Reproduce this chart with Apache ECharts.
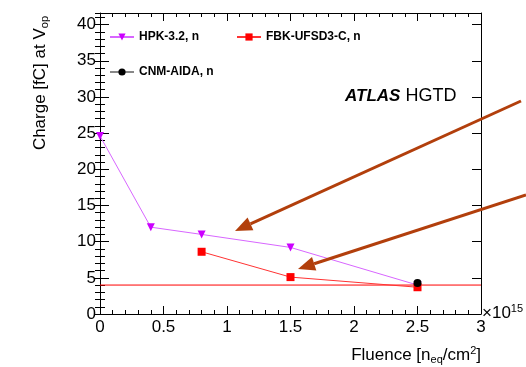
<!DOCTYPE html>
<html><head><meta charset="utf-8">
<script src="https://cdn.jsdelivr.net/npm/echarts@6/dist/echarts.min.js"></script>
<style>html,body{margin:0;padding:0;background:#fff}#c{width:526px;height:367px}</style>
</head><body><div id="c"></div>
<script>
// Data
const hpkFluence = [0, 0.4, 0.8, 1.5, 2.5];
const hpkCharge = [24.6, 12.0, 11.0, 9.2, 4.0];
const fbkFluence = [0.8, 1.5, 2.5];
const fbkCharge = [8.6, 5.1, 3.7];
const cnmFluence = [2.5];
const cnmCharge = [4.3];
const thresholdFluence = [0, 3];
const thresholdCharge = [4, 4];
const xTicks = [0, 0.5, 1, 1.5, 2, 2.5, 3];
const yTicks = [0, 5, 10, 15, 20, 25, 30, 35, 40];

const zip = (a, b) => a.map((v, i) => [v, b[i]]);
const chart = echarts.init(document.getElementById('c'));
const FONT = 'Liberation Sans, Arial, Helvetica, sans-serif';
const arrowColor = '#b23f0c';

function arrow(x1, y1, x2, y2) {
  const dx = x2 - x1, dy = y2 - y1, L = Math.hypot(dx, dy);
  const ux = dx / L, uy = dy / L, hl = 17, hw = 7;
  const bx = x2 - hl * ux, by = y2 - hl * uy;
  const nx = -uy, ny = ux;
  return [
    { type: 'line', shape: { x1, y1, x2: bx, y2: by }, style: { stroke: arrowColor, lineWidth: 3 }, z: 100 },
    { type: 'polygon', shape: { points: [[x2, y2], [bx + hw * nx, by + hw * ny], [bx - hw * nx, by - hw * ny]] }, style: { fill: arrowColor }, z: 100 }
  ];
}

const yMax = 41.6;
const baseY = { type: 'value', min: 0, max: yMax, splitLine: { show: false } };
const baseX = { type: 'value', min: 0, max: 3, interval: 0.5, splitLine: { show: false } };
const legendText = { fontSize: 12, fontWeight: 'bold', fontFamily: FONT, color: '#000' };

const option = {
  animation: false,
  backgroundColor: '#fff',
  grid: { left: 100, right: 45, top: 13, bottom: 53, containLabel: false },
  xAxis: [
    Object.assign({}, baseX, {
      position: 'bottom',
      axisLine: { show: true, lineStyle: { color: '#000', width: 1 } },
      axisTick: { show: true, inside: true, length: 8, lineStyle: { color: '#000' } },
      minorTick: { show: true, splitNumber: 5, length: 4, lineStyle: { color: '#000' } },
      axisLabel: { show: true, margin: 5, color: '#000', fontSize: 17, fontFamily: FONT,
        formatter: v => (xTicks.includes(+v.toFixed(2)) ? String(+v.toFixed(2)) : '') }
    }),
    Object.assign({}, baseX, {
      position: 'top',
      axisLine: { show: true, onZero: false, lineStyle: { color: '#000', width: 1 } },
      axisTick: { show: true, inside: true, length: 8, lineStyle: { color: '#000' } },
      minorTick: { show: true, splitNumber: 5, length: 4, lineStyle: { color: '#000' } },
      axisLabel: { show: false }
    })
  ],
  yAxis: [
    Object.assign({}, baseY, {
      position: 'left', interval: 5,
      axisLine: { show: true, onZero: false, lineStyle: { color: '#000', width: 1 } },
      axisTick: { show: true, inside: true, length: 9, lineStyle: { color: '#000' } },
      axisLabel: { show: true, margin: 4, color: '#000', fontSize: 17, fontFamily: FONT,
        formatter: v => (yTicks.includes(Math.round(v * 100) / 100) ? String(v) : '') }
    }),
    Object.assign({}, baseY, {
      position: 'left', interval: 1,
      axisLine: { show: false },
      axisTick: { show: true, inside: true, length: 5, lineStyle: { color: '#000' } },
      axisLabel: { show: false }
    }),
    Object.assign({}, baseY, {
      position: 'right', interval: 5,
      axisLine: { show: true, onZero: false, lineStyle: { color: '#000', width: 1 } },
      axisTick: { show: true, inside: true, length: 9, lineStyle: { color: '#000' } },
      axisLabel: { show: false }
    }),
    Object.assign({}, baseY, {
      position: 'right', interval: 1,
      axisLine: { show: false },
      axisTick: { show: true, inside: true, length: 5, lineStyle: { color: '#000' } },
      axisLabel: { show: false }
    })
  ],
  legend: [
    { data: ['HPK-3.2, n', 'FBK-UFSD3-C, n'], left: 104, top: 26, itemWidth: 24, itemHeight: 9, itemGap: 37,
      itemTextGap: 6, textStyle: legendText },
    { data: ['CNM-AIDA, n'], left: 104, top: 61, itemWidth: 24, itemHeight: 9, itemTextGap: 6,
      textStyle: legendText }
  ],
  series: [
    { name: 'threshold', type: 'line', data: zip(thresholdFluence, thresholdCharge), showSymbol: false,
      lineStyle: { color: '#ff0000', width: 1 }, silent: true, z: 1 },
    { name: 'HPK-3.2, n', type: 'line', data: zip(hpkFluence, hpkCharge), symbol: 'triangle', symbolRotate: 180, symbolSize: 8,
      itemStyle: { color: '#cc00ff' }, lineStyle: { color: '#d866ff', width: 1 }, z: 2 },
    { name: 'FBK-UFSD3-C, n', type: 'line', data: zip(fbkFluence, fbkCharge), symbol: 'rect', symbolSize: 8,
      itemStyle: { color: '#ff0000' }, lineStyle: { color: '#ff3333', width: 1 }, z: 3 },
    { name: 'CNM-AIDA, n', type: 'line', data: zip(cnmFluence, cnmCharge), symbol: 'circle', symbolSize: 8,
      itemStyle: { color: '#000' }, lineStyle: { color: '#888', width: 1 }, z: 4 }
  ],
  graphic: [
    { type: 'text', x: 40, y: 16, rotation: Math.PI / 2,
      style: { text: 'Charge [fC] at V{sub|op}', align: 'right', verticalAlign: 'middle', fill: '#000',
        font: '17px ' + FONT, rich: { sub: { fontSize: 11, fontFamily: FONT, fill: '#000', padding: [9, 0, 0, 0] } } } },
    { type: 'text', x: 481, y: 355,
      style: { text: 'Fluence [n{sub|eq}/cm{sup|2}]', align: 'right', verticalAlign: 'middle', fill: '#000',
        font: '17px ' + FONT, rich: { sub: { fontSize: 11, fontFamily: FONT, fill: '#000', padding: [9, 0, 0, 0] },
          sup: { fontSize: 11, fontFamily: FONT, fill: '#000', padding: [0, 0, 9, 0] } } } },
    { type: 'text', x: 482, y: 313,
      style: { text: '×10{sup|15}', align: 'left', verticalAlign: 'middle', fill: '#000',
        font: '17px ' + FONT, rich: { sup: { fontSize: 11, fontFamily: FONT, fill: '#000', padding: [0, 0, 9, 0] } } } },
    { type: 'text', x: 345, y: 96,
      style: { text: '{b|ATLAS} HGTD', align: 'left', verticalAlign: 'middle', fill: '#000',
        font: '18px ' + FONT, rich: { b: { fontSize: 17, fontWeight: 'bold', fontStyle: 'italic', fontFamily: FONT, fill: '#000' } } } },
    ...arrow(521, 101, 235, 231),
    ...arrow(526, 195, 298, 269)
  ]
};
chart.setOption(option);
</script></body></html>
